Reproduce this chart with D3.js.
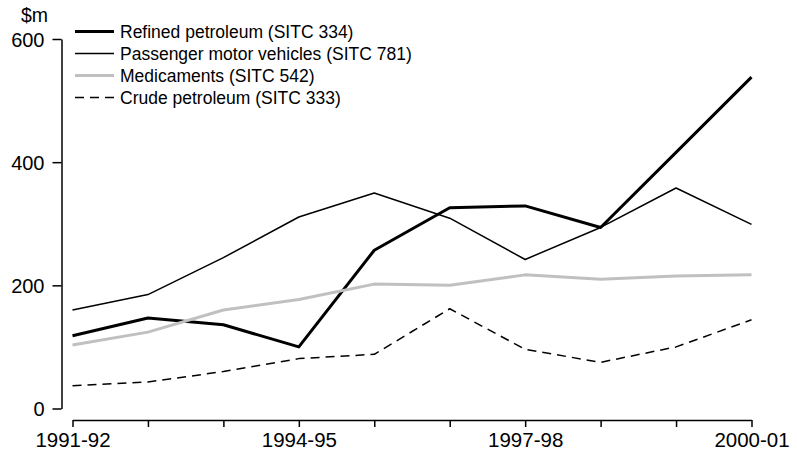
<!DOCTYPE html>
<html>
<head>
<meta charset="utf-8">
<script src="https://cdn.jsdelivr.net/npm/d3@7"></script>
<style>
  html, body { margin: 0; padding: 0; background: #fff; }
  svg text { font-family: "Liberation Sans", Arial, sans-serif; fill: #000; }
</style>
</head>
<body>
<svg id="chart" width="797" height="452"></svg>
<script>
const years = ["1991-92","1992-93","1993-94","1994-95","1995-96","1996-97","1997-98","1998-99","1999-00","2000-01"];
const labelledYears = ["1991-92","1994-95","1997-98","2000-01"];
const yTicks = [0, 200, 400, 600];

const refinedPetroleum = [118, 147, 136, 100, 257, 326, 329, 294, 416, 538];
const passengerVehicles = [160, 185, 245, 311, 350, 309, 242, 294, 358, 299];
const medicaments = [103, 124, 160, 177, 202, 200, 217, 210, 215, 217];
const crudePetroleum = [37, 43, 60, 81, 88, 162, 96, 75, 100, 144];

const seriesNames = ["Refined petroleum (SITC 334)", "Passenger motor vehicles (SITC 781)", "Medicaments (SITC 542)", "Crude petroleum (SITC 333)"];
const seriesValues = [refinedPetroleum, passengerVehicles, medicaments, crudePetroleum];
const seriesStyles = [
  { stroke: "#000", width: 3, dash: null },
  { stroke: "#000", width: 1.5, dash: null },
  { stroke: "#c0c0c0", width: 3, dash: null },
  { stroke: "#000", width: 1.5, dash: "9,6" }
];

const svg = d3.select("#chart");

const x = d3.scalePoint().domain(years).range([72.5, 751.5]);
const y = d3.scaleLinear().domain([0, 600]).range([408.5, 39]);

// Y axis
const yAxis = svg.append("g")
  .attr("transform", "translate(61.5,0)")
  .call(d3.axisLeft(y).tickValues(yTicks).tickSize(9).tickSizeOuter(0).tickPadding(8));
yAxis.select(".domain").attr("stroke", "#000").attr("stroke-width", 1.5);
yAxis.selectAll(".tick line").attr("stroke", "#000").attr("stroke-width", 1.5);
yAxis.selectAll(".tick text").attr("font-size", 20).attr("font-family", "Liberation Sans, Arial, sans-serif").attr("dy", "0.35em");

// X axis
const xAxis = svg.append("g")
  .attr("transform", "translate(0,420)")
  .call(d3.axisBottom(x).tickSize(7).tickSizeOuter(0).tickPadding(5)
    .tickFormat(d => labelledYears.includes(d) ? d : ""));
xAxis.select(".domain").attr("stroke", "#000").attr("stroke-width", 1.5);
xAxis.selectAll(".tick line").attr("stroke", "#000").attr("stroke-width", 1.5);
xAxis.selectAll(".tick text").attr("font-size", 20.5).attr("font-family", "Liberation Sans, Arial, sans-serif");

// Unit label
svg.append("text").attr("x", 21).attr("y", 22).attr("font-size", 19.5).text("$m");

// Lines
const line = d3.line().x((d, i) => x(years[i])).y(d => y(d));
seriesValues.forEach((vals, k) => {
  const s = seriesStyles[k];
  svg.append("path")
    .datum(vals)
    .attr("d", line)
    .attr("fill", "none")
    .attr("stroke", s.stroke)
    .attr("stroke-width", s.width)
    .attr("stroke-linejoin", "round")
    .attr("stroke-dasharray", s.dash);
});

// Legend
const legend = svg.append("g");
seriesNames.forEach((name, k) => {
  const s = seriesStyles[k];
  const cy = 31.5 + k * 22;
  legend.append("line")
    .attr("x1", 75).attr("x2", 114).attr("y1", cy).attr("y2", cy)
    .attr("stroke", s.stroke).attr("stroke-width", s.width)
    .attr("stroke-dasharray", s.dash);
  legend.append("text")
    .attr("x", 120).attr("y", cy).attr("dy", "0.35em")
    .attr("font-size", 17.5)
    .text(name);
});
</script>
</body>
</html>
